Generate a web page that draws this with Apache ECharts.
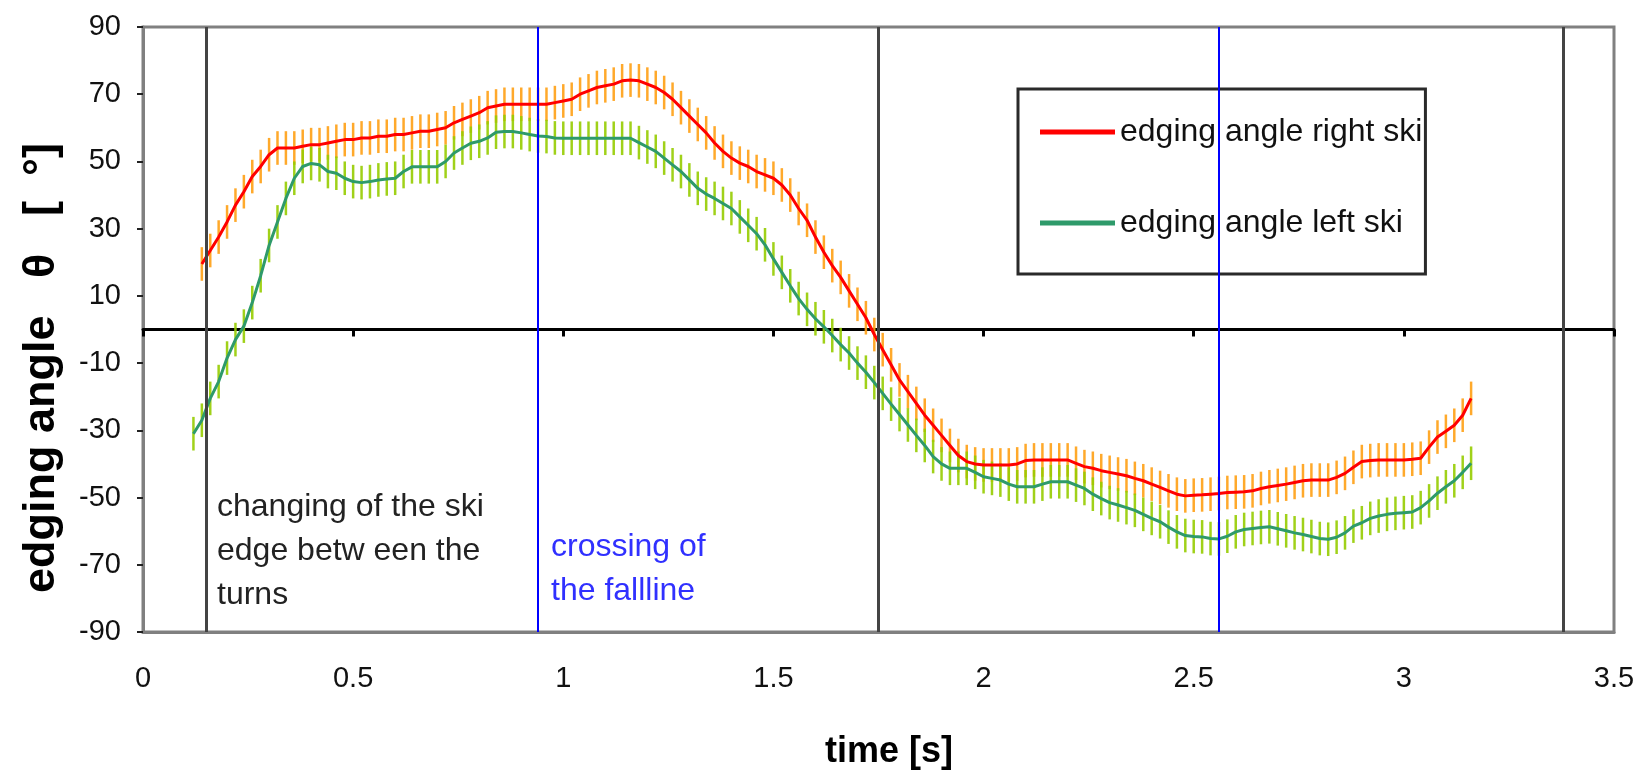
<!DOCTYPE html>
<html><head><meta charset="utf-8">
<script src="https://cdn.jsdelivr.net/npm/echarts@6/dist/echarts.min.js"></script>
<style>html,body{margin:0;padding:0;background:#fff}#c{width:1650px;height:770px}</style>
</head><body><div id="c"></div>
<script>
// ---- data ----
const times = [
0.12,0.14,0.16,0.18,0.20,0.22,0.24,0.26,0.28,0.30,
0.32,0.34,0.36,0.38,0.40,0.42,0.44,0.46,0.48,0.50,
0.52,0.54,0.56,0.58,0.60,0.62,0.64,0.66,0.68,0.70,
0.72,0.74,0.76,0.78,0.80,0.82,0.84,0.86,0.88,0.90,
0.92,0.94,0.96,0.98,1.00,1.02,1.04,1.06,1.08,1.10,
1.12,1.14,1.16,1.18,1.20,1.22,1.24,1.26,1.28,1.30,
1.32,1.34,1.36,1.38,1.40,1.42,1.44,1.46,1.48,1.50,
1.52,1.54,1.56,1.58,1.60,1.62,1.64,1.66,1.68,1.70,
1.72,1.74,1.76,1.78,1.80,1.82,1.84,1.86,1.88,1.90,
1.92,1.94,1.96,1.98,2.00,2.02,2.04,2.06,2.08,2.10,
2.12,2.14,2.16,2.18,2.20,2.22,2.24,2.26,2.28,2.30,
2.32,2.34,2.36,2.38,2.40,2.42,2.44,2.46,2.48,2.50,
2.52,2.54,2.56,2.58,2.60,2.62,2.64,2.66,2.68,2.70,
2.72,2.74,2.76,2.78,2.80,2.82,2.84,2.86,2.88,2.90,
2.92,2.94,2.96,2.98,3.00,3.02,3.04,3.06,3.08,3.10,
3.12,3.14,3.16];

const rightSki = [
null,19.5,23.5,27.5,32,37,41,45.5,48.5,52,
54,54,54,54.5,55,55,55.5,56,56.5,56.5,
57,57,57.5,57.5,58,58,58.5,59,59,59.5,
60,61.5,62.5,63.5,64.5,66,66.5,67,67,67,
67,67,67,67.5,68,68.5,70,71,72,72.5,
73,74,74.2,74,73,72,70.5,68.5,66,63.5,
61,58.5,55.5,53,51,49.5,48.5,47,46,45,
43,40,36,32.5,27.5,23,19,15.5,11.5,7.5,
3.5,-1.5,-6,-10.5,-15,-18.5,-22,-25.5,-28.5,-31.5,
-34.5,-37.5,-39.3,-40,-40.3,-40.3,-40.3,-40.3,-40,-39,
-38.8,-38.8,-38.8,-38.8,-38.8,-39.8,-40.8,-41.3,-42,-42.5,
-43,-43.5,-44.3,-45,-46,-47,-48,-49,-49.5,-49.3,
-49.2,-49,-48.8,-48.5,-48.4,-48.3,-48,-47.3,-46.8,-46.4,
-46,-45.5,-45,-44.8,-44.8,-44.8,-44,-42.8,-41,-39.3,
-39,-38.8,-38.8,-38.8,-38.8,-38.6,-38.3,-35,-32,-30.3,
-28.5,-25.5,-20.5];

const leftSki = [
-31,-27,-20.5,-15.5,-8.5,-3,1,8,16,25,
32,39,45,48.5,49.4,49,47,46.5,45,44,
43.7,44,44.5,44.8,45,47,48.4,48.4,48.4,48.4,
50,52.5,54,55.4,56,57,58.7,58.9,58.9,58.5,
58,57.6,57.4,57,56.9,56.9,56.9,56.9,56.9,56.9,
56.9,56.9,56.9,55.6,54.3,53,51,49,47,44.5,
42,40.3,39,37.5,36,33.5,31,28.5,25.2,21,
17,13,9.2,6,3.2,0.8,-1.8,-4.5,-7,-10,
-12.7,-15.8,-19,-22.2,-25.3,-28.4,-31.5,-34.5,-37.8,-40,
-41.3,-41.3,-41.3,-42.5,-43.8,-44.3,-44.8,-46,-46.8,-46.8,
-46.8,-46,-45.3,-45.3,-45.3,-46.3,-47.3,-49,-50.3,-51.5,
-52.2,-53,-53.8,-55,-56.2,-57.2,-58.8,-60.2,-61.3,-61.6,
-61.7,-62.2,-62.3,-61.5,-60.2,-59.5,-59.2,-58.9,-58.7,-59.3,
-59.9,-60.5,-61,-61.6,-62.2,-62.4,-61.8,-60.5,-58.5,-57.5,
-56.2,-55.5,-55,-54.7,-54.5,-54.3,-53,-51,-48.7,-46.8,
-45,-42.5,-39.8];

const rightErr = 5;
const leftErr = 5;
const yTickValues = [-90,-70,-50,-30,-10,10,30,50,70,90];
const xMin = 0, xMax = 3.5, xStep = 0.5;
const edgeChangeTimes = [0.152, 1.746, 3.379];
const fallLineTimes = [0.945, 2.565];
const seriesNames = ['edging angle right ski', 'edging angle left ski'];
const yTitle = 'edging angle   θ   [  °]';
const xTitle = 'time [s]';
const noteEdge = 'changing of the ski\nedge betw een the\nturns';
const noteFall = 'crossing of\nthe fallline';

// ---- chart ----
const FONT = '"Liberation Sans", Arial, sans-serif';
const chart = echarts.init(document.getElementById('c'), null, {renderer: 'canvas'});

function pairs(vals) {
  const out = [];
  times.forEach((t, i) => { if (vals[i] != null) out.push([t, vals[i]]); });
  return out;
}
function bars(vals, err) {
  const out = [];
  times.forEach((t, i) => { if (vals[i] != null) out.push([t, vals[i] - err, vals[i] + err]); });
  return out;
}
function errRenderer(color) {
  return function (params, api) {
    const x = api.value(0);
    const p1 = api.coord([x, api.value(1)]);
    const p2 = api.coord([x, api.value(2)]);
    return {type: 'line', shape: {x1: p1[0], y1: p1[1], x2: p2[0], y2: p2[1]},
            style: {stroke: color, lineWidth: 2.5}};
  };
}

const option = {
  animation: false,
  backgroundColor: '#fff',
  grid: {left: 143, right: 36, top: 27, bottom: 138, show: true,
         borderColor: '#808080', borderWidth: 3, backgroundColor: 'transparent'},
  legend: {
    data: seriesNames, orient: 'vertical', left: 1018, top: 89,
    icon: 'rect', itemWidth: 75, itemHeight: 5, itemGap: 59,
    padding: [27, 3, 35, 22],
    borderColor: '#2a2a2a', borderWidth: 3, backgroundColor: '#fff',
    textStyle: {fontSize: 32, fontFamily: FONT, color: '#111'}
  },
  xAxis: [
    {type: 'value', min: xMin, max: xMax, interval: xStep,
     axisLine: {onZero: false, lineStyle: {color: '#808080', width: 3}},
     axisTick: {show: false}, splitLine: {show: false},
     axisLabel: {fontSize: 29, fontFamily: FONT, color: '#111', margin: 32}},
    {type: 'value', min: xMin, max: xMax, interval: xStep, position: 'bottom',
     axisLine: {onZero: true, lineStyle: {color: '#000', width: 3}},
     axisTick: {show: true, length: 7, lineStyle: {color: '#000', width: 3}},
     axisLabel: {show: false}, splitLine: {show: false}}
  ],
  yAxis: {
    type: 'value', min: -90, max: 90,
    axisLine: {show: true, onZero: false, lineStyle: {color: '#808080', width: 3}},
    axisTick: {show: true, length: 6, customValues: yTickValues, lineStyle: {color: '#222', width: 2}},
    axisLabel: {customValues: yTickValues, fontSize: 29, fontFamily: FONT, color: '#111', margin: 22},
    splitLine: {show: false}
  },
  series: [
    {type: 'custom', name: 'err right', xAxisIndex: 0, renderItem: errRenderer('rgba(255,160,20,0.9)'),
     encode: {x: 0, y: [1, 2]}, data: bars(rightSki, rightErr), z: 2, silent: true},
    {type: 'custom', name: 'err left', xAxisIndex: 0, renderItem: errRenderer('rgba(150,204,0,0.9)'),
     encode: {x: 0, y: [1, 2]}, data: bars(leftSki, leftErr), z: 2, silent: true},
    {type: 'line', name: seriesNames[0], xAxisIndex: 0, data: pairs(rightSki), showSymbol: false,
     symbol: 'none', color: '#ff0000', lineStyle: {color: '#ff0000', width: 3}, z: 4},
    {type: 'line', name: seriesNames[1], xAxisIndex: 0, data: pairs(leftSki), showSymbol: false,
     symbol: 'none', color: '#2e9a6a', lineStyle: {color: '#2e9a6a', width: 3}, z: 4,
     markLine: {symbol: 'none', silent: true, label: {show: false}, z: 5,
       data: edgeChangeTimes.map(t => ({xAxis: t, lineStyle: {color: '#444', width: 3, type: 'solid'}}))
         .concat(fallLineTimes.map(t => ({xAxis: t, lineStyle: {color: '#0000ff', width: 2, type: 'solid'}})))}}
  ],
  graphic: [
    {type: 'text', x: 42, y: 368, rotation: Math.PI / 2, z: 10,
     style: {text: yTitle, font: 'bold 45px ' + FONT, fill: '#000', align: 'center', verticalAlign: 'middle'}},
    {type: 'text', x: 889, y: 752, z: 10,
     style: {text: xTitle, font: 'bold 36px ' + FONT, fill: '#000', align: 'center', verticalAlign: 'middle'}},
    {type: 'text', x: 217, y: 485, z: 10,
     style: {text: noteEdge, font: '32px ' + FONT, fill: '#222', align: 'left', verticalAlign: 'top', lineHeight: 44}},
    {type: 'text', x: 551, y: 525, z: 10,
     style: {text: noteFall, font: '32px ' + FONT, fill: '#3030ff', align: 'left', verticalAlign: 'top', lineHeight: 44}}
  ]
};
chart.setOption(option);
</script>
</body></html>
